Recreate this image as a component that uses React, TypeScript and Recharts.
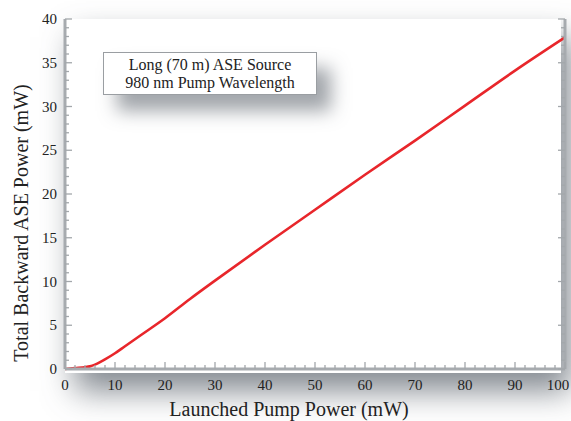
import React from 'react';
import { LineChart, Line, XAxis, YAxis } from 'recharts';

// launched pump power (mW) vs total backward ASE power (mW)
const pumpPower = [0, 2, 4, 5, 6, 8, 10, 12, 15, 20, 25, 30, 40, 50, 60, 70, 80, 90, 100];
const asePower = [0, 0.1, 0.2, 0.3, 0.5, 1.1, 1.8, 2.6, 3.8, 5.8, 8.0, 10.1, 14.2, 18.2, 22.2, 26.1, 30.1, 34.1, 37.9];

const xTicks = [0, 2, 4, 6, 8, 10, 12, 14, 16, 18, 20, 22, 24, 26, 28, 30, 32, 34, 36, 38, 40, 42, 44, 46, 48, 50, 52, 54, 56, 58, 60, 62, 64, 66, 68, 70, 72, 74, 76, 78, 80, 82, 84, 86, 88, 90, 92, 94, 96, 98, 100];
const yTicks = [0, 1, 2, 3, 4, 5, 6, 7, 8, 9, 10, 11, 12, 13, 14, 15, 16, 17, 18, 19, 20, 21, 22, 23, 24, 25, 26, 27, 28, 29, 30, 31, 32, 33, 34, 35, 36, 37, 38, 39, 40];

const legendLines = ['Long (70 m) ASE Source', '980 nm Pump Wavelength'];

const data = pumpPower.map((p, i) => ({ pump: p, ase: asePower[i] }));

const FONT = '"Liberation Serif", "Times New Roman", serif';
const FRAME = '#a7abaf';
const TICK = '#a3a7ab';

const makeXTick = (dir: 1 | -1, showLabel: boolean) => (props: any) => {
  const { x, y, payload } = props;
  const v = payload.value;
  const major = v % 10 === 0;
  const len = major ? 7 : 4;
  // last label sits at the page edge, keep it fully on screen
  const lx = v === 100 ? x - 7 : x;
  return (
    <g>
      <line x1={x} x2={x} y1={y} y2={y - dir * len} stroke={TICK} strokeWidth={1.3} />
      {showLabel && major && (
        <text x={lx} y={y + 21} textAnchor="middle" fontFamily={FONT} fontSize={15} fill="#222">
          {v}
        </text>
      )}
    </g>
  );
};

const makeYTick = (dir: 1 | -1, showLabel: boolean) => (props: any) => {
  const { x, y, payload } = props;
  const v = payload.value;
  const major = v % 5 === 0;
  const len = major ? 7 : 4;
  return (
    <g>
      <line x1={x} x2={x + dir * len} y1={y} y2={y} stroke={TICK} strokeWidth={1.3} />
      {showLabel && major && (
        <text x={x - 8} y={y + 5} textAnchor="end" fontFamily={FONT} fontSize={15} fill="#222">
          {v}
        </text>
      )}
    </g>
  );
};

const YTitle = () => (
  <text
    x={28} y={223} transform="rotate(-90 28 223)" textAnchor="middle"
    fontFamily={FONT} fontSize={20} fill="#222"
  >
    Total Backward ASE Power (mW)
  </text>
);

export default function App() {
  return (
    <div style={{ position: 'absolute', left: 0, top: 0, width: 571, height: 421, overflow: 'hidden', background: '#fff' }}>
      {/* soft drop shadow behind the plot frame */}
      <div
        style={{
          position: 'absolute', left: 65, top: 19, width: 496, height: 354,
          boxShadow: '10px 18px 30px rgba(80,88,98,0.7)', background: '#fff',
        }}
      />
      <div style={{ position: 'absolute', left: 0, top: 0 }}>
        <LineChart width={571} height={421} data={data} margin={{ top: 19, right: 0, bottom: 0, left: 0 }}>
          <XAxis
            xAxisId="bottom" dataKey="pump" type="number" domain={[0, 100]} ticks={xTicks} interval={0}
            height={52} tickSize={0} tickMargin={0} tickLine={false}
            axisLine={{ stroke: FRAME, strokeWidth: 3 }} tick={makeXTick(1, true)}
            label={{ value: 'Launched Pump Power (mW)', position: 'insideBottom', offset: 5, dx: -26, fontFamily: FONT, fontSize: 20, fill: '#222' }}
          />
          <XAxis
            xAxisId="top" orientation="top" dataKey="pump" type="number" domain={[0, 100]} ticks={xTicks} interval={0}
            height={0} tickSize={0} tickMargin={0} tickLine={false}
            axisLine={{ stroke: FRAME, strokeWidth: 3 }} tick={makeXTick(-1, false)}
          />
          <YAxis
            yAxisId="left" type="number" domain={[0, 40]} ticks={yTicks} interval={0}
            width={65} tickSize={0} tickMargin={0} tickLine={false}
            axisLine={{ stroke: FRAME, strokeWidth: 3 }} tick={makeYTick(1, true)}
            label={<YTitle />}
          />
          <YAxis
            yAxisId="right" orientation="right" type="number" domain={[0, 40]} ticks={yTicks} interval={0}
            width={6} tickSize={0} tickMargin={0} tickLine={false}
            axisLine={{ stroke: FRAME, strokeWidth: 3 }} tick={makeYTick(-1, false)}
          />
          <Line
            xAxisId="top" yAxisId="right" dataKey="ase" stroke="none" dot={false}
            activeDot={false} isAnimationActive={false} legendType="none"
          />
          <Line
            xAxisId="bottom" yAxisId="left" type="monotone" dataKey="ase" stroke="#e8262b"
            strokeWidth={2.6} dot={false} activeDot={false} isAnimationActive={false}
          />
        </LineChart>
      </div>
      <div
        style={{
          position: 'absolute', left: 103, top: 52, width: 214, height: 43,
          border: '1px solid #9a9ea2', background: '#fff', boxSizing: 'border-box',
          boxShadow: '14px 16px 18px rgba(70,78,88,0.5)',
          fontFamily: FONT, fontSize: 16, color: '#222', textAlign: 'center', lineHeight: '18px', paddingTop: 3,
        }}
      >
        {legendLines.map((l) => (
          <div key={l}>{l}</div>
        ))}
      </div>
    </div>
  );
}
